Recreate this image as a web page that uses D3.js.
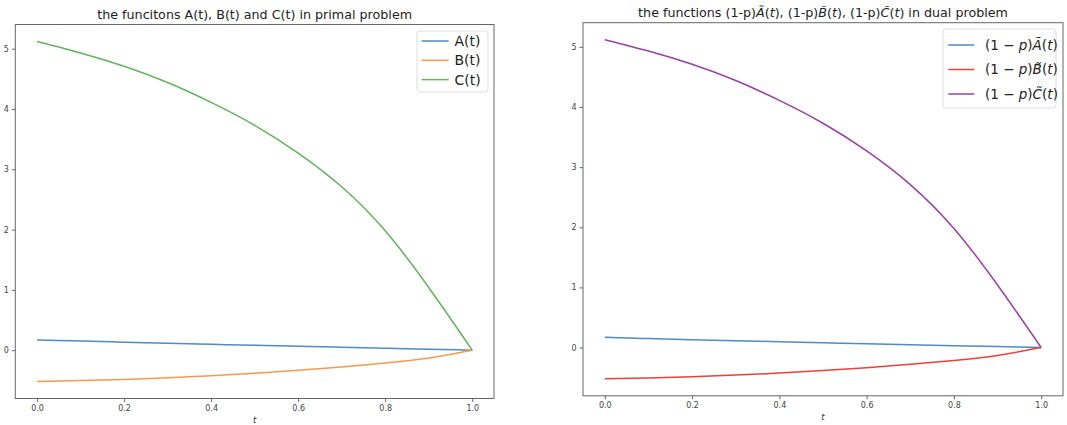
<!DOCTYPE html>
<html lang="en">
<head>
<meta charset="UTF-8">
<title>primal vs dual functions</title>
<script src="https://d3js.org/d3.v7.min.js"></script>
<style>
    body { margin: 0; background: #fff; font-family: "DejaVu Sans", sans-serif; }
    .tick text { font-size: 8px; fill: #444; font-family: "DejaVu Sans", sans-serif; }
    .tick line { stroke: #666; }
    .domain { display: none; }
</style>
</head>
<body>
<svg id="chart" width="1067" height="425"></svg>
<script>
// sample points along t
const tValues = [0, 0.1, 0.2, 0.3, 0.4, 0.5, 0.6, 0.7, 0.8, 0.9, 1.0];
const aValues = [0.17, 0.15, 0.132, 0.114, 0.097, 0.08, 0.064, 0.048, 0.032, 0.016, 0];
const bValues = [-0.52, -0.505, -0.485, -0.458, -0.424, -0.382, -0.334, -0.279, -0.214, -0.13, 0];
const cValues = [5.12, 4.93, 4.71, 4.44, 4.11, 3.73, 3.27, 2.71, 1.98, 1.04, 0];

const xTicks = [0, 0.2, 0.4, 0.6, 0.8, 1.0];
const yTicks = [0, 1, 2, 3, 4, 5];

// math-ish labels: pieces with optional italics
const tilde = "\u0303";
function mathLabel(letter) {
    return [
        { s: "(1 \u2212 " }, { s: "p", i: true }, { s: ")" },
        { s: letter + tilde, i: true }, { s: "(" }, { s: "t", i: true }, { s: ")" }
    ];
}

const panels = [
    {
        box: { x0: 15.3, x1: 494, y0: 24.5, y1: 398.5 },
        title: [{ s: "the funcitons A(t), B(t) and C(t) in primal problem" }],
        titleY: 15,
        series: [
            { name: [{ s: "A(t)" }], values: aValues, color: "#4f8bc2" },
            { name: [{ s: "B(t)" }], values: bValues, color: "#f8994a" },
            { name: [{ s: "C(t)" }], values: cValues, color: "#62b25c" }
        ],
        legend: { x: 417, y: 31, w: 71, h: 61, top: 10, rowH: 19.3, lineX: 4.7, lineW: 27, textX: 37.5, fs: 14 }
    },
    {
        box: { x0: 583, x1: 1063, y0: 22.7, y1: 395.8 },
        title: [
            { s: "the functions (1-p)" }, { s: "A" + tilde, i: true }, { s: "(" }, { s: "t", i: true }, { s: "), (1-p)" },
            { s: "B" + tilde, i: true }, { s: "(" }, { s: "t", i: true }, { s: "), (1-p)" },
            { s: "C" + tilde, i: true }, { s: "(" }, { s: "t", i: true }, { s: ") in dual problem" }
        ],
        titleY: 13,
        series: [
            { name: mathLabel("A"), values: aValues, color: "#4f8bc2" },
            { name: mathLabel("B"), values: bValues, color: "#ee4038" },
            { name: mathLabel("C"), values: cValues, color: "#9a3fa3" }
        ],
        legend: { x: 943, y: 29, w: 113, h: 79, top: 16, rowH: 24.5, lineX: 5.3, lineW: 26, textX: 42, fs: 13.5 }
    }
];

const svg = d3.select("#chart");

function addRich(sel, parts) {
    parts.forEach(p => {
        sel.append("tspan")
            .attr("font-style", p.i ? "italic" : "normal")
            .text(p.s);
    });
}

// matplotlib-like 5% padding
const allY = aValues.concat(bValues, cValues);
const yMin = d3.min(allY), yMax = d3.max(allY);
const yPad = (yMax - yMin) * 0.05;

panels.forEach(p => {
    const b = p.box;
    const x = d3.scaleLinear().domain([-0.05, 1.05]).range([b.x0, b.x1]);
    const y = d3.scaleLinear().domain([yMin - yPad, yMax + yPad]).range([b.y1, b.y0]);

    const g = svg.append("g");

    // axes (ticks only, frame drawn separately)
    g.append("g")
        .attr("transform", `translate(0,${b.y1})`)
        .call(d3.axisBottom(x).tickValues(xTicks).tickFormat(d3.format(".1f")).tickSize(3.5).tickPadding(3));
    g.append("g")
        .attr("transform", `translate(${b.x0},0)`)
        .call(d3.axisLeft(y).tickValues(yTicks).tickFormat(d3.format("d")).tickSize(3.5).tickPadding(3));

    // lines (uniform t grid -> natural cubic spline)
    const line = d3.line()
        .x((d, i) => x(tValues[i]))
        .y(d => y(d))
        .curve(d3.curveNatural);

    p.series.forEach(s => {
        g.append("path")
            .attr("d", line(s.values))
            .attr("fill", "none")
            .attr("stroke", s.color)
            .attr("stroke-width", 1.5);
    });

    // frame
    g.append("rect")
        .attr("x", b.x0).attr("y", b.y0)
        .attr("width", b.x1 - b.x0).attr("height", b.y1 - b.y0)
        .attr("fill", "none").attr("stroke", "#666").attr("stroke-width", 1);

    // title
    const title = g.append("text")
        .attr("x", (b.x0 + b.x1) / 2)
        .attr("y", p.titleY)
        .attr("dy", "0.35em")
        .attr("text-anchor", "middle")
        .attr("font-size", 12.7)
        .attr("fill", "#222");
    addRich(title, p.title);

    // x label
    g.append("text")
        .attr("x", (b.x0 + b.x1) / 2)
        .attr("y", b.y1 + 21.5)
        .attr("dy", "0.35em")
        .attr("text-anchor", "middle")
        .attr("font-size", 8.5)
        .attr("font-style", "italic")
        .attr("fill", "#333")
        .text("t");

    // legend
    const L = p.legend;
    const lg = g.append("g").attr("transform", `translate(${L.x},${L.y})`);
    lg.append("rect")
        .attr("width", L.w).attr("height", L.h)
        .attr("rx", 3)
        .attr("fill", "#fff").attr("fill-opacity", 0.8)
        .attr("stroke", "#ddd");
    p.series.forEach((s, i) => {
        const cy = L.top + i * L.rowH;
        lg.append("line")
            .attr("x1", L.lineX).attr("x2", L.lineX + L.lineW)
            .attr("y1", cy).attr("y2", cy)
            .attr("stroke", s.color).attr("stroke-width", 1.5);
        const t = lg.append("text")
            .attr("x", L.textX).attr("y", cy)
            .attr("dy", "0.35em")
            .attr("font-size", L.fs)
            .attr("fill", "#222");
        addRich(t, s.name);
    });
});
</script>
</body>
</html>
